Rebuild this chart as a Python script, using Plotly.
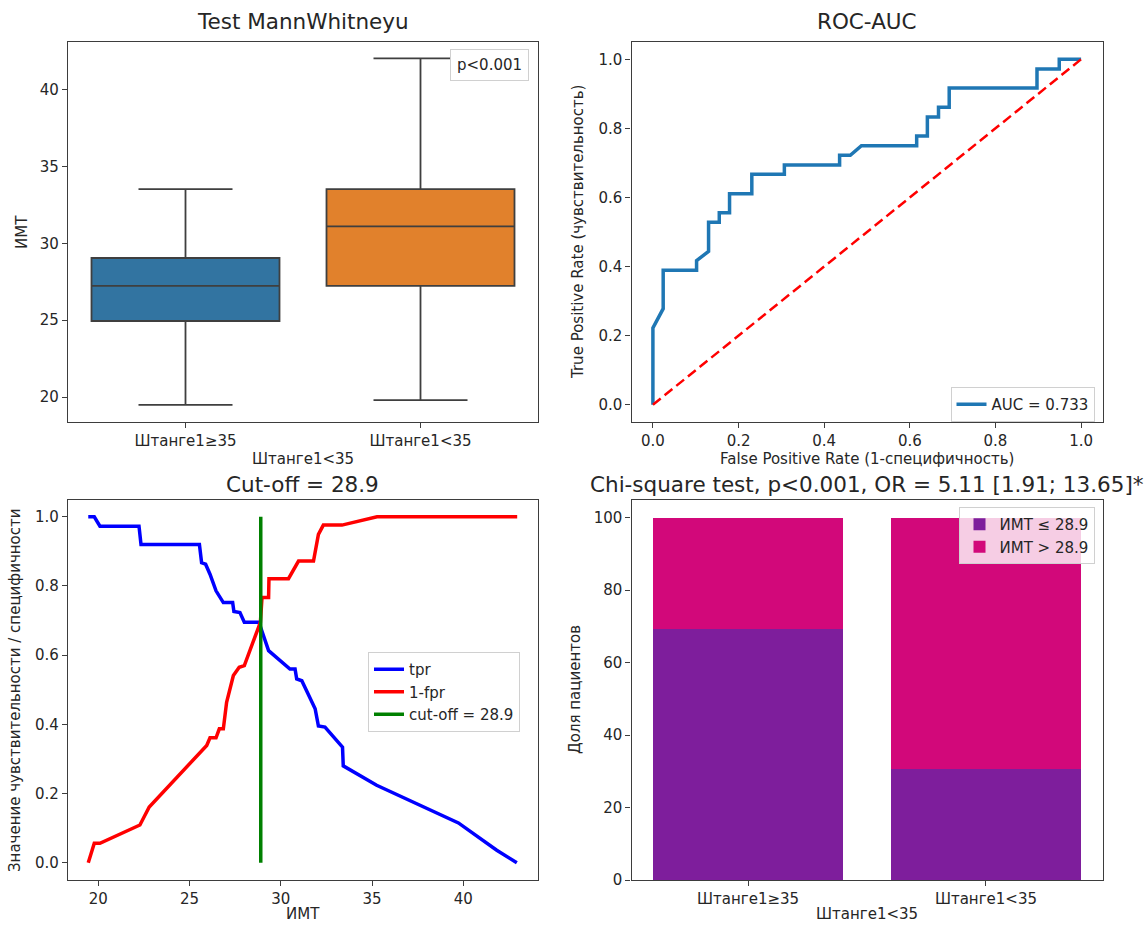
import plotly.graph_objects as go

# ---------------- data ----------------
box_categories = ["Штанге1≥35", "Штанге1<35"]
box_q1 = [24.95, 27.23]
box_median = [27.23, 31.1]
box_q3 = [29.05, 33.53]
box_lower = [19.5, 19.8]
box_upper = [33.53, 42.03]
box_colors = ["#3274a1", "#e1812c"]

roc_fpr = [0, 0, 0.024, 0.024, 0.102, 0.102, 0.13, 0.13, 0.155, 0.155, 0.179, 0.179,
           0.231, 0.231, 0.307, 0.307, 0.436, 0.436, 0.461, 0.487, 0.616, 0.616, 0.641,
           0.641, 0.667, 0.667, 0.692, 0.692, 0.897, 0.897, 0.949, 0.949, 1.0]
roc_tpr = [0, 0.222, 0.278, 0.389, 0.389, 0.417, 0.444, 0.528, 0.528, 0.556, 0.556, 0.611,
           0.611, 0.667, 0.667, 0.694, 0.694, 0.722, 0.722, 0.75, 0.75, 0.778, 0.778,
           0.833, 0.833, 0.861, 0.861, 0.917, 0.917, 0.972, 0.972, 1.0, 1.0]
auc_label = "AUC = 0.733"

tpr_x = [19.45, 19.78, 20.09, 22.23, 22.34, 25.54, 25.66, 25.88, 26.12, 26.45, 26.85, 27.36,
         27.43, 27.76, 28.0, 28.8, 29.0, 29.33, 30.5, 30.78, 30.87, 31.15, 31.88, 32.06,
         32.42, 33.38, 33.42, 35.25, 39.73, 41.83, 42.93]
tpr_y = [1.0, 1.0, 0.973, 0.973, 0.92, 0.92, 0.867, 0.863, 0.834, 0.786, 0.752, 0.752,
         0.726, 0.723, 0.695, 0.695, 0.664, 0.613, 0.56, 0.56, 0.531, 0.526, 0.445, 0.395,
         0.392, 0.334, 0.28, 0.224, 0.115, 0.036, 0.0]

spec_x = [19.45, 19.78, 20.09, 22.28, 22.79, 25.54, 25.79, 25.94, 26.12, 26.45, 26.63, 26.85,
          27.03, 27.40, 27.72, 28.0, 28.88, 28.97, 29.33, 29.35, 30.42, 30.97, 31.79, 31.88,
          32.06, 32.33, 33.35, 35.27, 42.95]
spec_y = [0.0, 0.056, 0.056, 0.109, 0.161, 0.315, 0.327, 0.339, 0.361, 0.361, 0.387, 0.387,
          0.464, 0.541, 0.565, 0.570, 0.695, 0.767, 0.767, 0.821, 0.821, 0.872, 0.872, 0.896,
          0.949, 0.976, 0.976, 1.0, 1.0]

cutoff = 28.9

bar_categories = ["Штанге1≥35", "Штанге1<35"]
bar_low = [69.2, 30.6]
bar_high = [30.8, 69.4]

# ---------------- layout geometry ----------------
W, H = 1146, 925
def px_x(p):
    return p / W
def px_y(p):
    return 1 - p / H

XL = [px_x(68), px_x(538)]
XR = [px_x(631.5), px_x(1102.5)]
YT = [px_y(422), px_y(42)]
YB = [px_y(880), px_y(499.5)]

FONT = "DejaVu Sans"
TXT = "#262626"
LINEC = "#3d3d3d"
FS = 15

def axis_style(**kw):
    d = dict(showline=True, mirror=True, linecolor=LINEC, linewidth=1.2,
             ticks="outside", ticklen=5, tickwidth=1, tickcolor=LINEC,
             showgrid=False, zeroline=False,
             tickfont=dict(family=FONT, size=FS, color=TXT))
    d.update(kw)
    return d

fig = go.Figure()

# --- top-left: box plots ---
for i, cat in enumerate(box_categories):
    fig.add_trace(go.Box(
        x=[cat], q1=[box_q1[i]], median=[box_median[i]], q3=[box_q3[i]],
        lowerfence=[box_lower[i]], upperfence=[box_upper[i]],
        fillcolor=box_colors[i], line=dict(color="#3f3f3f", width=1.8),
        width=0.8, whiskerwidth=0.5, boxpoints=False, showlegend=False,
        xaxis="x", yaxis="y", hoverinfo="skip"))

# --- top-right: ROC ---
fig.add_trace(go.Scatter(x=roc_fpr, y=roc_tpr, mode="lines", name=auc_label,
                         line=dict(color="#1f77b4", width=3.5),
                         xaxis="x2", yaxis="y2", legend="legend"))
fig.add_trace(go.Scatter(x=[0, 1], y=[0, 1], mode="lines", showlegend=False,
                         line=dict(color="#ff0000", width=2.5, dash="10px,5px"),
                         xaxis="x2", yaxis="y2"))

# --- bottom-left: tpr / 1-fpr ---
fig.add_trace(go.Scatter(x=tpr_x, y=tpr_y, mode="lines", name="tpr",
                         line=dict(color="#0000ff", width=3.5),
                         xaxis="x3", yaxis="y3", legend="legend2"))
fig.add_trace(go.Scatter(x=spec_x, y=spec_y, mode="lines", name="1-fpr",
                         line=dict(color="#ff0000", width=3.5),
                         xaxis="x3", yaxis="y3", legend="legend2"))
fig.add_trace(go.Scatter(x=[cutoff, cutoff], y=[0, 1], mode="lines",
                         name=f"cut-off = {cutoff}",
                         line=dict(color="#008000", width=3.5),
                         xaxis="x3", yaxis="y3", legend="legend2"))

# --- bottom-right: stacked bars ---
fig.add_trace(go.Bar(x=bar_categories, y=bar_low, name=f"ИМТ ≤ {cutoff}",
                     marker=dict(color="#7e1e9c", line=dict(width=0)), width=0.8,
                     xaxis="x4", yaxis="y4", legend="legend3"))
fig.add_trace(go.Bar(x=bar_categories, y=bar_high, name=f"ИМТ > {cutoff}",
                     marker=dict(color="#d2087a", line=dict(width=0)), width=0.8,
                     xaxis="x4", yaxis="y4", legend="legend3"))

legend_common = dict(font=dict(family=FONT, size=FS, color=TXT),
                     bordercolor="#d0d0d0", borderwidth=1,
                     bgcolor="rgba(255,255,255,0.8)", tracegroupgap=0,
                     traceorder="normal")

fig.update_layout(
    width=W, height=H, template="none",
    paper_bgcolor="white", plot_bgcolor="white",
    margin=dict(l=0, r=0, t=0, b=0),
    font=dict(family=FONT, size=FS, color=TXT),
    boxmode="overlay", barmode="stack",
    xaxis=axis_style(domain=XL, anchor="y", type="category", range=[-0.5, 1.5]),
    yaxis=axis_style(domain=YT, anchor="x", range=[18.38, 43.1],
                     tickvals=[20, 25, 30, 35, 40]),
    xaxis2=axis_style(domain=XR, anchor="y2", range=[-0.05, 1.05],
                      tickvals=[0, 0.2, 0.4, 0.6, 0.8, 1.0], tickformat=".1f"),
    yaxis2=axis_style(domain=YT, anchor="x2", range=[-0.05, 1.05],
                      tickvals=[0, 0.2, 0.4, 0.6, 0.8, 1.0], tickformat=".1f"),
    xaxis3=axis_style(domain=XL, anchor="y3", range=[18.34, 44.09],
                      tickvals=[20, 25, 30, 35, 40]),
    yaxis3=axis_style(domain=YB, anchor="x3", range=[-0.05, 1.05],
                      tickvals=[0, 0.2, 0.4, 0.6, 0.8, 1.0], tickformat=".1f"),
    xaxis4=axis_style(domain=XR, anchor="y4", type="category", range=[-0.49, 1.49]),
    yaxis4=axis_style(domain=YB, anchor="x4", range=[0, 105],
                      tickvals=[0, 20, 40, 60, 80, 100]),
    legend=dict(x=px_x(1094.5), y=px_y(387), xanchor="right", yanchor="top", **legend_common),
    legend2=dict(x=px_x(368), y=px_y(652), xanchor="left", yanchor="top", **legend_common),
    legend3=dict(x=px_x(1094.5), y=px_y(507), xanchor="right", yanchor="top", **legend_common),
)

ann = []
# subplot titles
def title(text, xc, yc_px):
    ann.append(dict(text=text, x=px_x(xc), y=px_y(yc_px), xref="paper", yref="paper",
                    xanchor="center", yanchor="middle", showarrow=False,
                    font=dict(family=FONT, size=21.5, color=TXT)))
title("Test MannWhitneyu", 303, 22)
title("ROC-AUC", 867, 22)
title(f"Cut-off = {cutoff}", 303, 484)
title("Chi-square test, p<0.001, OR = 5.11 [1.91; 13.65]*", 867, 484)

def label(text, xc, yc, angle=0):
    ann.append(dict(text=text, x=px_x(xc), y=px_y(yc), xref="paper", yref="paper",
                    xanchor="center", yanchor="middle", showarrow=False, textangle=angle,
                    font=dict(family=FONT, size=FS, color=TXT)))
# axis labels
label("Штанге1<35", 303, 459)
label("ИМТ", 22, 232, -90)
label("False Positive Rate (1-специфичность)", 867, 459)
label("True Positive Rate (чувствительность)", 578, 232, -90)
label("ИМТ", 303, 914)
label("Значение чувствительности / специфичности", 15, 690, -90)
label("Штанге1<35", 867, 914)
label("Доля пациентов", 575, 690, -90)

# p-value legend box
ann.append(dict(text="p<0.001", x=px_x(529), y=px_y(49), xref="paper", yref="paper",
                xanchor="right", yanchor="top", showarrow=False,
                bordercolor="#d0d0d0", borderwidth=1, borderpad=6, bgcolor="white",
                font=dict(family=FONT, size=FS, color=TXT)))

fig.update_layout(annotations=ann)
fig.write_html("out.html")
